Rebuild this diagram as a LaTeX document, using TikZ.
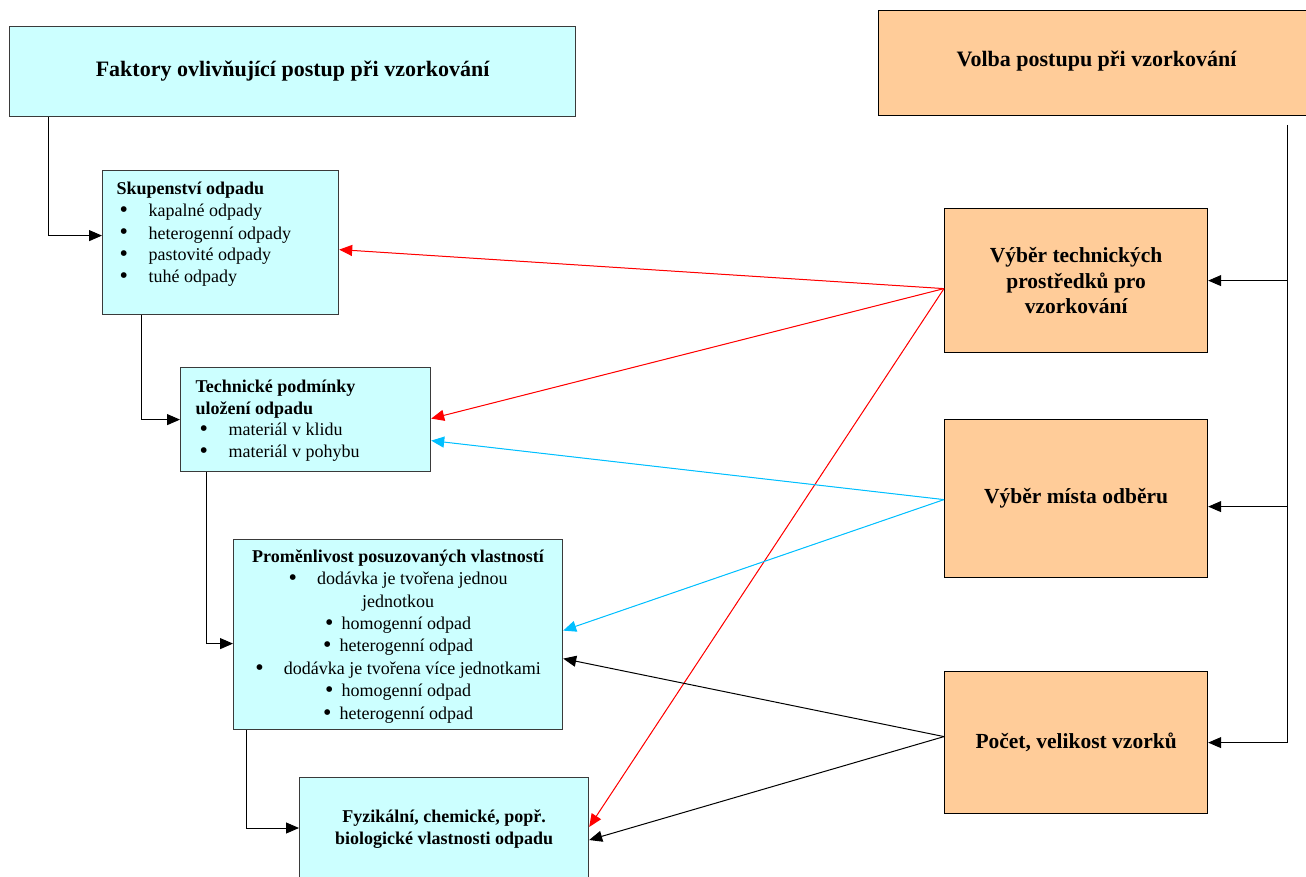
\documentclass[tikz,border=0pt]{standalone}
\usepackage{fontspec}
\setmainfont{Liberation Serif}
\usetikzlibrary{arrows.meta,positioning}
\definecolor{factorfill}{HTML}{CCFFFF}
\definecolor{choicefill}{HTML}{FFCC99}
\definecolor{framegray}{HTML}{3A3A3A}
\definecolor{skyline}{HTML}{00BFFF}
\newcommand{\wastebullet}{{\fontsize{24}{22}\selectfont\raisebox{-1pt}{\textbullet}}}

\begin{document}
\begin{tikzpicture}[
  x=1pt,y=-1pt,
  every node/.style={font=\fontsize{18}{22}\selectfont},
  factorbox/.style={draw=framegray,line width=1.2pt,fill=factorfill,anchor=north west,inner sep=0pt},
  choicebox/.style={draw=black,line width=1.2pt,fill=choicefill,anchor=north west,inner sep=0pt,align=center,
    font=\fontsize{21.5}{25.5}\selectfont\bfseries},
  headbox/.style={font=\fontsize{22}{26}\selectfont\bfseries,align=center},
  link/.style={-{Triangle[length=13pt,width=11pt]},line width=1pt,draw=black},
  redlink/.style={link,draw=red,fill=red},
  bluelink/.style={link,draw=skyline,fill=skyline}
]
\useasboundingbox (0,0) rectangle (1306,877);
\clip (0,0) rectangle (1306,877);

% left column: factors
\node[factorbox,headbox,minimum width=566pt,minimum height=90pt] (faktory) at (9,26)
  {Faktory ovlivňující postup při vzorkování};
\node[factorbox] (skup) at (102,170) {\begin{minipage}[c][144pt][t]{236pt}
  \leftskip=14pt\vspace*{9pt}
  \strut\textbf{Skupenství odpadu}\par
  \hspace*{3pt}\makebox[29pt][l]{\wastebullet}kapalné odpady\par
  \hspace*{3pt}\makebox[29pt][l]{\wastebullet}heterogenní odpady\par
  \hspace*{3pt}\makebox[29pt][l]{\wastebullet}pastovité odpady\par
  \hspace*{3pt}\makebox[29pt][l]{\wastebullet}tuhé odpady\par
  \end{minipage}};
\node[factorbox] (podminky) at (180,367) {\begin{minipage}[c][104pt][t]{250pt}
  \leftskip=15pt\fontsize{18}{21.5}\selectfont\vspace*{10pt}
  \strut\textbf{Technické podmínky}\par
  \textbf{uložení odpadu}\par
  \hspace*{4pt}\makebox[29pt][l]{\wastebullet}materiál v klidu\par
  \hspace*{4pt}\makebox[29pt][l]{\wastebullet}materiál v pohybu\par
  \end{minipage}};
\node[factorbox] (promenlivost) at (233,539) {\begin{minipage}[c][190pt][t]{329pt}
  \centering\fontsize{18}{22.4}\selectfont\vspace*{7pt}
  \strut\textbf{Proměnlivost posuzovaných vlastností}\par
  \wastebullet\hspace{20pt}dodávka je tvořena jednou\par
  jednotkou\par
  \wastebullet\hspace{8pt}homogenní odpad\par
  \wastebullet\hspace{8pt}heterogenní odpad\par
  \wastebullet\hspace{20pt}dodávka je tvořena více jednotkami\par
  \wastebullet\hspace{8pt}homogenní odpad\par
  \wastebullet\hspace{8pt}heterogenní odpad\par
  \end{minipage}};
\node[factorbox] (fyzik) at (299,777) {\begin{minipage}[c][140pt][t]{289pt}
  \centering\fontsize{18}{21.5}\selectfont\bfseries\vspace*{30pt}
  \strut Fyzikální, chemické, popř.\par
  biologické vlastnosti odpadu\par
  \end{minipage}};

% right column: choices
\node[choicebox,headbox,minimum width=436pt,minimum height=105pt] (volba) at (878,10)
  {\raisebox{9pt}{Volba postupu při vzorkování}};
\node[choicebox,minimum width=263pt,minimum height=144pt] (technika) at (944,208)
  {Výběr technických\\prostředků pro\\vzorkování};
\node[choicebox,minimum width=263pt,minimum height=158pt] (misto) at (944,419)
  {\raisebox{6pt}{Výběr místa odběru}};
\node[choicebox,minimum width=263pt,minimum height=142pt] (pocet) at (944,671)
  {Počet, velikost vzorků};

% chain of factors
\draw[link] ([xshift=39pt]faktory.south west) |- ([yshift=7pt]skup.west);
\draw[link] ([xshift=39pt]skup.south west) |- (podminky.west);
\draw[link] ([xshift=26.5pt]podminky.south west) |- ([yshift=-9pt]promenlivost.west);
\draw[link] ([xshift=13pt]promenlivost.south west) |- ([yshift=-51pt]fyzik.north west);

% trunk from the choice header
\coordinate (trunk) at (1287,125);
\coordinate (mistoin) at ([yshift=-8pt]misto.east);
\draw[link] (trunk) |- (pocet.east);
\draw[link] (trunk |- technika.east) -- (technika.east);
\draw[link] (trunk |- mistoin) -- (mistoin);

% links from choices to factors
\coordinate (techout) at ([yshift=-8pt]technika.west);
\coordinate (mistoout) at ([yshift=-1pt]misto.west);
\coordinate (pocetout) at ([yshift=6pt]pocet.west);
\draw[redlink] (techout) -- ([yshift=-7pt]skup.east);
\draw[redlink] (techout) -- ([yshift=1pt]podminky.east);
\draw[redlink] (techout) -- ([yshift=-50pt]fyzik.north east);
\draw[bluelink] (mistoout) -- ([yshift=-21pt]podminky.east);
\draw[bluelink] (mistoout) -- ([yshift=4pt]promenlivost.east);
\draw[link] (pocetout) -- ([yshift=-24pt]promenlivost.east);
\draw[link] (pocetout) -- ([yshift=-63pt]fyzik.north east);
\end{tikzpicture}
\end{document}
